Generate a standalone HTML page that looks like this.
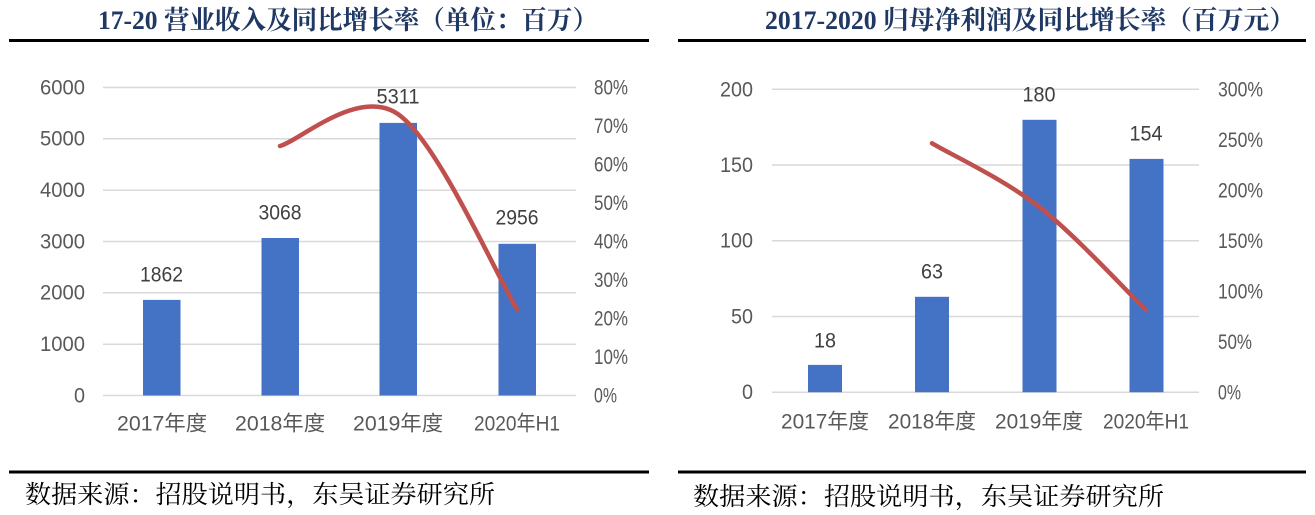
<!DOCTYPE html>
<html>
<head>
<meta charset="utf-8">
<style>
  html, body { margin: 0; padding: 0; background: #ffffff; }
  body { width: 1315px; height: 515px; overflow: hidden; }
  svg { display: block; }
  .title { font-family: "Liberation Serif", "Noto Serif CJK SC", serif; font-weight: bold; font-size: 26px; fill: #1f3864; }
  .ax { font-family: "Liberation Sans", "Noto Sans CJK SC", sans-serif; font-size: 21px; fill: #595959; }
  .dl { font-family: "Liberation Sans", "Noto Sans CJK SC", sans-serif; font-size: 21px; fill: #404040; }
  .src { font-family: "Liberation Serif", "Noto Serif CJK SC", serif; font-size: 25px; fill: #000000; }
  .grid { stroke: #d9d9d9; stroke-width: 1.5; }
  .bar { fill: #4472c4; }
  .line { fill: none; stroke: #c0504d; stroke-width: 4.5; stroke-linecap: round; stroke-linejoin: round; }
</style>
</head>
<body>
<svg width="1315" height="515" viewBox="0 0 1315 515" xmlns="http://www.w3.org/2000/svg">
  <rect x="0" y="0" width="1315" height="515" fill="#ffffff"/>

  <!-- ================= LEFT PANEL ================= -->
  <text class="title" x="98" y="29" textLength="500" lengthAdjust="spacingAndGlyphs">17-20 营业收入及同比增长率（单位：百万）</text>
  <rect x="9" y="39" width="640" height="3" fill="#000000"/>

  <!-- gridlines -->
  <line class="grid" x1="103" y1="87.5" x2="576" y2="87.5"/>
  <line class="grid" x1="103" y1="138.8" x2="576" y2="138.8"/>
  <line class="grid" x1="103" y1="190.2" x2="576" y2="190.2"/>
  <line class="grid" x1="103" y1="241.5" x2="576" y2="241.5"/>
  <line class="grid" x1="103" y1="292.8" x2="576" y2="292.8"/>
  <line class="grid" x1="103" y1="344.2" x2="576" y2="344.2"/>
  <line class="grid" x1="103" y1="395.5" x2="576" y2="395.5"/>

  <!-- left axis labels -->
  <g class="ax" text-anchor="end" dominant-baseline="central">
    <text x="85" y="88" textLength="45" lengthAdjust="spacingAndGlyphs">6000</text>
    <text x="85" y="139" textLength="45" lengthAdjust="spacingAndGlyphs">5000</text>
    <text x="85" y="190.5" textLength="45" lengthAdjust="spacingAndGlyphs">4000</text>
    <text x="85" y="242" textLength="45" lengthAdjust="spacingAndGlyphs">3000</text>
    <text x="85" y="293" textLength="45" lengthAdjust="spacingAndGlyphs">2000</text>
    <text x="85" y="344.5" textLength="45" lengthAdjust="spacingAndGlyphs">1000</text>
    <text x="85" y="396" textLength="11" lengthAdjust="spacingAndGlyphs">0</text>
  </g>

  <!-- right axis labels -->
  <g class="ax" text-anchor="start" dominant-baseline="central">
    <text x="594" y="88" textLength="34" lengthAdjust="spacingAndGlyphs">80%</text>
    <text x="594" y="126.5" textLength="34" lengthAdjust="spacingAndGlyphs">70%</text>
    <text x="594" y="165" textLength="34" lengthAdjust="spacingAndGlyphs">60%</text>
    <text x="594" y="203.5" textLength="34" lengthAdjust="spacingAndGlyphs">50%</text>
    <text x="594" y="242" textLength="34" lengthAdjust="spacingAndGlyphs">40%</text>
    <text x="594" y="280.5" textLength="34" lengthAdjust="spacingAndGlyphs">30%</text>
    <text x="594" y="319" textLength="34" lengthAdjust="spacingAndGlyphs">20%</text>
    <text x="594" y="357.5" textLength="34" lengthAdjust="spacingAndGlyphs">10%</text>
    <text x="594" y="396" textLength="23" lengthAdjust="spacingAndGlyphs">0%</text>
  </g>

  <!-- bars -->
  <rect class="bar" x="143" y="299.9" width="37.5" height="95.6"/>
  <rect class="bar" x="261.5" y="238" width="37.5" height="157.5"/>
  <rect class="bar" x="379.5" y="122.9" width="37.5" height="272.6"/>
  <rect class="bar" x="498.5" y="243.8" width="37.5" height="151.7"/>

  <!-- data labels -->
  <g class="dl" text-anchor="middle" dominant-baseline="central">
    <text x="161.5" y="275" textLength="43" lengthAdjust="spacingAndGlyphs">1862</text>
    <text x="280" y="213" textLength="43" lengthAdjust="spacingAndGlyphs">3068</text>
    <text x="398" y="97" textLength="43" lengthAdjust="spacingAndGlyphs">5311</text>
    <text x="517" y="218" textLength="43" lengthAdjust="spacingAndGlyphs">2956</text>
  </g>

  <!-- growth line -->
  <path class="line" d="M280,146 C299.7,140.7 358.5,86.9 398,114.1 C437.5,141.3 497.2,276.8 517,309.3"/>

  <!-- x labels -->
  <g class="ax" text-anchor="middle" dominant-baseline="central">
    <text x="162" y="424" textLength="90" lengthAdjust="spacingAndGlyphs">2017年度</text>
    <text x="280" y="424" textLength="90" lengthAdjust="spacingAndGlyphs">2018年度</text>
    <text x="398" y="424" textLength="90" lengthAdjust="spacingAndGlyphs">2019年度</text>
    <text x="517" y="424" textLength="86" lengthAdjust="spacingAndGlyphs">2020年H1</text>
  </g>

  <rect x="9" y="470.5" width="640" height="3" fill="#000000"/>
  <text class="src" x="25" y="503" textLength="470" lengthAdjust="spacingAndGlyphs">数据来源：招股说明书，东吴证券研究所</text>

  <!-- ================= RIGHT PANEL ================= -->
  <text class="title" x="765" y="29" textLength="530" lengthAdjust="spacingAndGlyphs">2017-2020 归母净利润及同比增长率（百万元）</text>
  <rect x="678" y="39" width="628" height="3" fill="#000000"/>

  <!-- gridlines -->
  <line class="grid" x1="772" y1="89.2" x2="1199" y2="89.2"/>
  <line class="grid" x1="772" y1="165" x2="1199" y2="165"/>
  <line class="grid" x1="772" y1="240.7" x2="1199" y2="240.7"/>
  <line class="grid" x1="772" y1="316.5" x2="1199" y2="316.5"/>
  <line class="grid" x1="772" y1="392.2" x2="1199" y2="392.2"/>

  <!-- left axis labels -->
  <g class="ax" text-anchor="end" dominant-baseline="central">
    <text x="753" y="90" textLength="33" lengthAdjust="spacingAndGlyphs">200</text>
    <text x="753" y="165.5" textLength="33" lengthAdjust="spacingAndGlyphs">150</text>
    <text x="753" y="241" textLength="33" lengthAdjust="spacingAndGlyphs">100</text>
    <text x="753" y="317" textLength="22" lengthAdjust="spacingAndGlyphs">50</text>
    <text x="753" y="392.5" textLength="11" lengthAdjust="spacingAndGlyphs">0</text>
  </g>

  <!-- right axis labels -->
  <g class="ax" text-anchor="start" dominant-baseline="central">
    <text x="1218" y="90" textLength="45" lengthAdjust="spacingAndGlyphs">300%</text>
    <text x="1218" y="140.5" textLength="45" lengthAdjust="spacingAndGlyphs">250%</text>
    <text x="1218" y="191" textLength="45" lengthAdjust="spacingAndGlyphs">200%</text>
    <text x="1218" y="241.5" textLength="45" lengthAdjust="spacingAndGlyphs">150%</text>
    <text x="1218" y="292" textLength="45" lengthAdjust="spacingAndGlyphs">100%</text>
    <text x="1218" y="342.5" textLength="34" lengthAdjust="spacingAndGlyphs">50%</text>
    <text x="1218" y="393" textLength="23" lengthAdjust="spacingAndGlyphs">0%</text>
  </g>

  <!-- bars -->
  <rect class="bar" x="808" y="364.9" width="34" height="27.3"/>
  <rect class="bar" x="915" y="296.8" width="34" height="95.4"/>
  <rect class="bar" x="1022.5" y="119.8" width="34" height="272.4"/>
  <rect class="bar" x="1129.5" y="158.9" width="34" height="233.3"/>

  <!-- data labels -->
  <g class="dl" text-anchor="middle" dominant-baseline="central">
    <text x="825" y="341" textLength="22" lengthAdjust="spacingAndGlyphs">18</text>
    <text x="932" y="272" textLength="22" lengthAdjust="spacingAndGlyphs">63</text>
    <text x="1039" y="95" textLength="33" lengthAdjust="spacingAndGlyphs">180</text>
    <text x="1146" y="134" textLength="33" lengthAdjust="spacingAndGlyphs">154</text>
  </g>

  <!-- growth line -->
  <path class="line" d="M932,143.3 C949.8,153.9 1003.3,178.9 1039,206.7 C1074.7,234.5 1128.2,292.8 1146,310"/>

  <!-- x labels -->
  <g class="ax" text-anchor="middle" dominant-baseline="central">
    <text x="825" y="422" textLength="88" lengthAdjust="spacingAndGlyphs">2017年度</text>
    <text x="932" y="422" textLength="88" lengthAdjust="spacingAndGlyphs">2018年度</text>
    <text x="1039" y="422" textLength="88" lengthAdjust="spacingAndGlyphs">2019年度</text>
    <text x="1146" y="422" textLength="86" lengthAdjust="spacingAndGlyphs">2020年H1</text>
  </g>

  <rect x="678" y="470.5" width="628" height="3" fill="#000000"/>
  <text class="src" x="693" y="505" textLength="471" lengthAdjust="spacingAndGlyphs">数据来源：招股说明书，东吴证券研究所</text>
</svg>
</body>
</html>
